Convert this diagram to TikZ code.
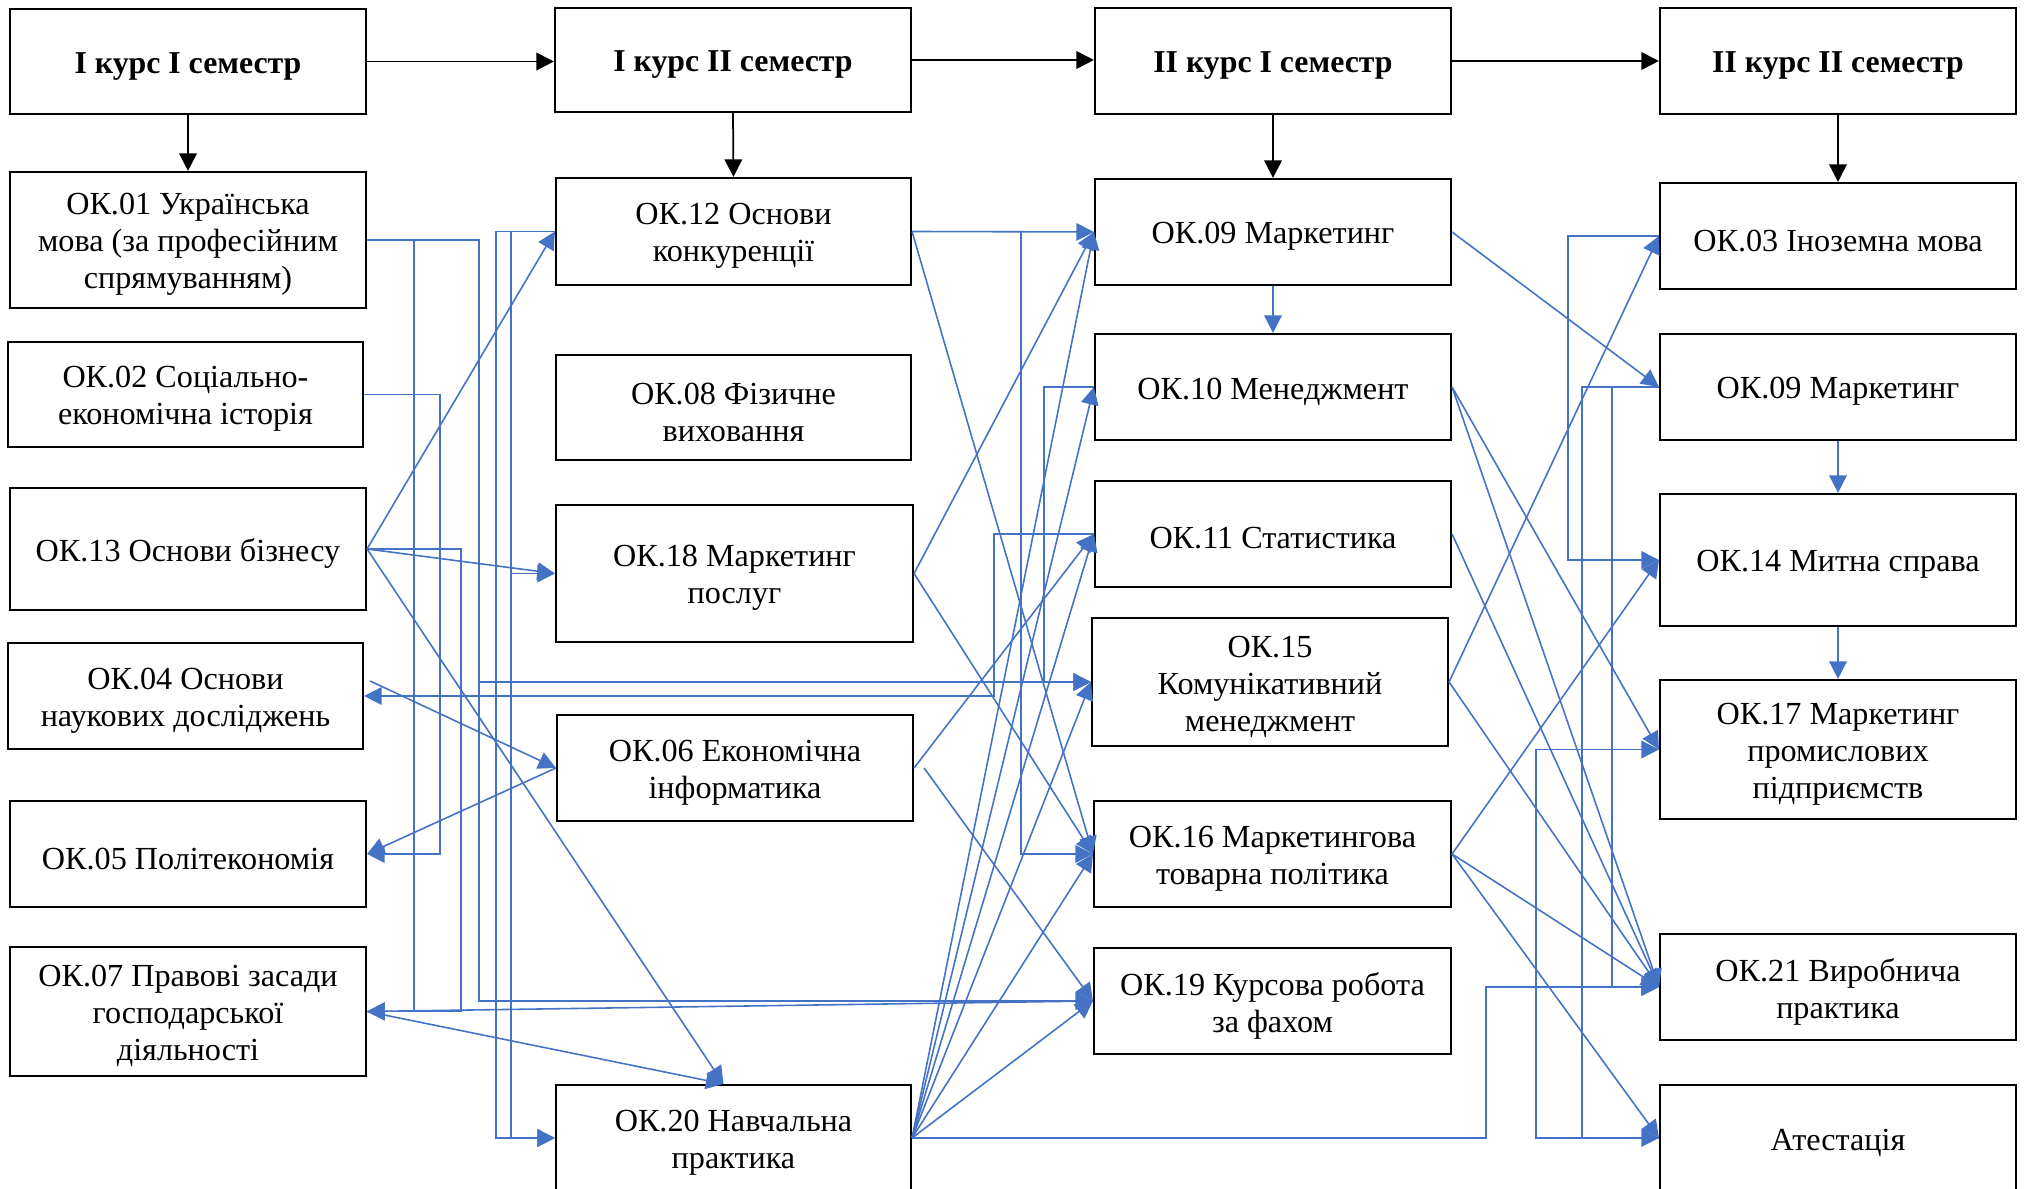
\documentclass[tikz,border=0pt]{standalone}
\usepackage{xcolor}
\usepackage{fontspec}
\usepackage{tikz}
\usetikzlibrary{arrows.meta}
\setmainfont{Liberation Serif}

\definecolor{linkblue}{HTML}{4472C4}

\tikzset{
    box/.style={draw, line width=0.6pt, inner sep=0pt},
    txt/.style={align=center, inner sep=0pt, font=\fontsize{9.15}{10.5}\selectfont},
    headtxt/.style={txt, font=\fontsize{9.05}{10.5}\selectfont\bfseries},
    flow/.style={line width=0.5pt, -{Triangle[length=5pt, width=5pt]}},
    link/.style={linkblue, line width=0.45pt, -{Triangle[length=5pt, width=5pt]}}
}

\begin{document}
\begin{tikzpicture}[x=0.01cm, y=-0.01cm]
    \useasboundingbox (0,0) rectangle (2026,1189);
    \clip (0,0) rectangle (2026,1189);

    \foreach \name/\pos/\w/\h/\label in {
        h1/{188,61.5}/356/105/{I курс I семестр},
        h2/{733,60}/356/104/{I курс II семестр},
        h3/{1273,61}/356/106/{II курс I семестр},
        h4/{1838,61}/356/106/{II курс II семестр}}{
        \node[box, minimum width=\w*0.01cm, minimum height=\h*0.01cm] (\name) at (\pos) {};
        \node[headtxt] (\name-t) at ([yshift=-1.3pt]\name.center) {\label};
    }

    \foreach \name/\pos/\w/\h/\label in {
        ok01/{188,240}/356/136/{ОК.01 Українська\\мова (за професійним\\спрямуванням)},
        ok02/{185.5,394.5}/355/105/{ОК.02 Соціально-\\економічна історія},
        ok13/{188,549}/356/122/{ОК.13 Основи бізнесу},
        ok04/{185.5,696}/355/106/{ОК.04 Основи\\наукових досліджень},
        ok05/{188,854}/356/106/{ОК.05 Політекономія},
        ok07/{188,1011.5}/356/129/{ОК.07 Правові засади\\господарської\\діяльності},
        ok12/{733.5,231.5}/355/107/{ОК.12 Основи\\конкуренції},
        ok08/{733.5,407.5}/355/105/{ОК.08 Фізичне\\виховання},
        ok18/{734.5,573.5}/357/137/{ОК.18 Маркетинг\\послуг},
        ok06/{735,768}/356/106/{ОК.06 Економічна\\інформатика},
        ok20/{733.5,1138}/355/106/{ОК.20 Навчальна\\практика},
        ok09/{1273,232}/356/106/{ОК.09 Маркетинг},
        ok10/{1273,387}/356/106/{ОК.10 Менеджмент},
        ok11/{1273,534}/356/106/{ОК.11 Статистика},
        ok15/{1270,682}/356/128/{ОК.15\\Комунікативний\\менеджмент},
        ok16/{1272.5,854}/357/106/{ОК.16 Маркетингова\\товарна політика},
        ok19/{1272.5,1001}/357/106/{ОК.19 Курсова робота\\за фахом},
        ok03/{1838,236}/356/106/{ОК.03 Іноземна мова},
        ok09b/{1838,387}/356/106/{ОК.09 Маркетинг},
        ok14/{1838,560}/356/132/{ОК.14 Митна справа},
        ok17/{1838,749.5}/356/139/{ОК.17 Маркетинг\\промислових\\підприємств},
        ok21/{1838,987}/356/106/{ОК.21 Виробнича\\практика},
        att/{1838,1138}/356/106/{Атестація}}{
        \node[box, minimum width=\w*0.01cm, minimum height=\h*0.01cm] (\name) at (\pos) {};
        \node[txt] (\name-t) at ([yshift=-1.3pt]\name.center) {\label};
    }

    \coordinate (ok20top) at ([xshift=-0.1cm]ok20.north);
    \coordinate (ok04out) at ([xshift=0.06cm, yshift=0.15cm]ok04.east);
    \coordinate (ok06out) at ([xshift=0.1cm]ok06.east);

    \foreach \a/\b in {h1/h2, h2/h3, h3/h4}
        \draw[flow] (\a.east) -- (\a.east -| \b.west);
    \foreach \a/\b in {h1/ok01, h2/ok12, h3/ok09, h4/ok03}
        \draw[flow] (\a.south) -- (\b.north);

    \foreach \a/\b in {
        ok09.south/ok10.north, ok09b.south/ok14.north, ok14.south/ok17.north,
        ok13.east/ok12.west, ok13.east/ok18.west, ok13.east/ok20top,
        ok04out/ok06.west, ok06.west/ok05.east, ok19.west/ok07.east, ok07.east/ok20top,
        ok12.east/ok09.west, ok12.east/ok16.west, ok18.east/ok09.west, ok18.east/ok16.west,
        ok06.east/ok11.west, ok06out/ok19.west,
        ok20.east/ok09.west, ok20.east/ok10.west, ok20.east/ok11.west,
        ok20.east/ok15.west, ok20.east/ok16.west, ok20.east/ok19.west,
        ok09.east/ok09b.west, ok10.east/ok17.west, ok10.east/ok21.west, ok11.east/ok21.west,
        ok15.east/ok03.west, ok15.east/ok21.west,
        ok16.east/ok14.west, ok16.east/ok21.west, ok16.east/att.west}{
        \draw[link] (\a) -- (\b);
    }

    \foreach \x in {414,440,461,479,496,511,994,1021,1044,1486,1536,1568,1582,1612}
        \coordinate (v\x) at (\x,0);

    \foreach \a/\x/\b in {
        ok01.east/414/ok07.east, ok02.east/440/ok05.east, ok13.east/461/ok07.east,
        ok01.east/479/ok15.west, ok01.east/479/ok19.west,
        ok12.west/496/ok20.west, ok12.west/511/ok20.west, ok12.west/511/ok18.west,
        ok11.west/994/ok04.east, ok12.east/1021/ok16.west, ok10.west/1044/ok15.west,
        ok20.east/1486/ok21.west, att.west/1536/ok17.west, ok03.west/1568/ok14.west,
        ok09b.west/1582/att.west, ok09b.west/1612/ok21.west}{
        \draw[link] (\a) -| (perpendicular cs: horizontal line through={(\b)}, vertical line through={(v\x)}) -- (\b);
    }
\end{tikzpicture}
\end{document}
